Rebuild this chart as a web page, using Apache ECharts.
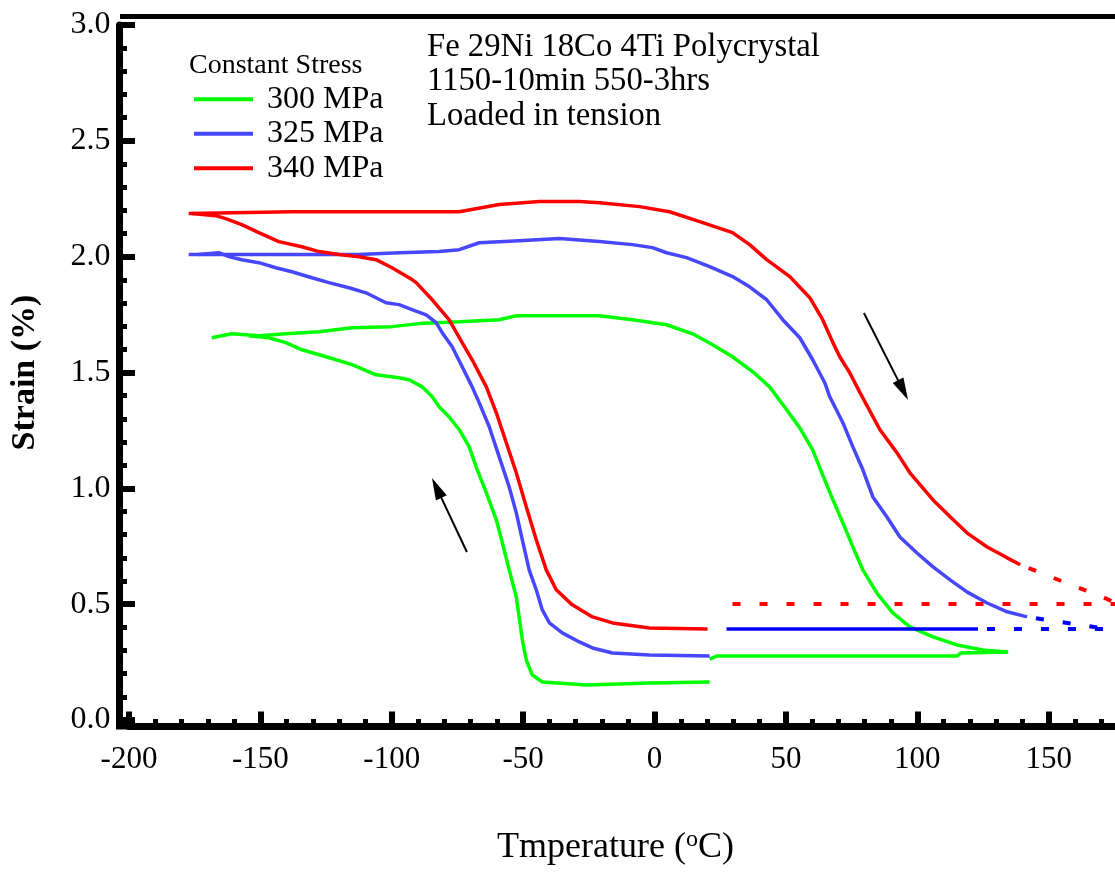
<!DOCTYPE html>
<html>
<head>
<meta charset="utf-8">
<title>Fe 29Ni 18Co 4Ti Polycrystal – strain vs temperature</title>
<script src="https://cdn.jsdelivr.net/npm/echarts@6/dist/echarts.min.js"></script>
<style>
  html, body { margin: 0; padding: 0; background: #fff; overflow: hidden; }
  #chart { width: 1115px; height: 875px; }
</style>
</head>
<body>
<div id="chart"></div>
<script>
// Strain (%) versus temperature (°C) under constant tensile stress.
// Each pair is [temperature, strain].

const FONT = 'Liberation Serif, Times New Roman, serif';

const stressLabels = ['300 MPa', '325 MPa', '340 MPa'];

// 300 MPa
const heat300 = [[-168.5,1.650],[-160.9,1.667],[-150.6,1.659],[-140.3,1.667],[-127.7,1.676],[-115.1,1.693],[-99.9,1.698],[-89.6,1.711],[-74.3,1.719],[-59.1,1.728],[-52.6,1.745],[-40.0,1.745],[-21.0,1.745],[-8.4,1.728],[4.6,1.706],[14.5,1.667],[22.1,1.620],[29.7,1.568],[37.4,1.503],[43.8,1.438],[50.3,1.339],[55.3,1.261],[60.2,1.166],[64.0,1.058],[67.9,0.950],[71.7,0.851],[75.5,0.747],[79.3,0.648],[84.6,0.549],[90.7,0.462],[97.2,0.402],[106.0,0.359],[115.1,0.324],[125.0,0.302],[134.2,0.294]];
const cool300 = [[21.0,0.164],[-1.9,0.160],[-25.9,0.151],[-42.7,0.164],[-46.5,0.194],[-48.8,0.259],[-50.3,0.346],[-52.6,0.531],[-55.3,0.648],[-57.9,0.765],[-60.2,0.864],[-64.0,0.981],[-67.9,1.093],[-70.5,1.179],[-74.3,1.253],[-78.2,1.309],[-82.0,1.352],[-84.6,1.395],[-88.4,1.438],[-93.4,1.469],[-97.2,1.477],[-106.0,1.490],[-115.1,1.534],[-125.0,1.568],[-134.2,1.598],[-140.3,1.629],[-146.8,1.650],[-154.4,1.659]];
const base300 = [[21.0,0.263],[23.6,0.276],[115.1,0.276],[116.5,0.289],[134.6,0.294]];

// 325 MPa
const heat325 = [[-177.3,2.009],[-112.5,2.009],[-97.2,2.017],[-82.0,2.022],[-74.3,2.030],[-66.7,2.060],[-51.5,2.069],[-36.2,2.078],[-21.0,2.065],[-8.4,2.052],[-0.8,2.039],[4.6,2.017],[12.2,1.996],[21.0,1.957],[29.7,1.914],[36.2,1.870],[42.7,1.814],[48.8,1.728],[55.3,1.650],[60.2,1.555],[64.8,1.456],[66.7,1.395],[71.7,1.283],[75.5,1.179],[79.3,1.080],[83.1,0.963],[88.4,0.877],[93.4,0.790],[99.9,0.721],[106.0,0.661],[112.5,0.605],[118.9,0.553],[126.6,0.505],[134.2,0.467],[141.8,0.445]];
const cool325 = [[21.0,0.276],[-1.9,0.281],[-16.0,0.289],[-23.6,0.311],[-28.6,0.337],[-35.1,0.376],[-40.0,0.419],[-42.7,0.475],[-45.0,0.562],[-47.7,0.648],[-50.3,0.778],[-52.6,0.894],[-55.3,1.006],[-59.1,1.136],[-62.9,1.266],[-66.7,1.369],[-69.4,1.438],[-73.2,1.525],[-77.0,1.611],[-80.8,1.672],[-83.1,1.715],[-86.9,1.749],[-92.3,1.771],[-97.2,1.793],[-102.2,1.801],[-109.8,1.844],[-116.3,1.866],[-123.9,1.888],[-130.4,1.909],[-138.0,1.935],[-144.1,1.952],[-150.6,1.974],[-157.1,1.987],[-162.0,2.000],[-165.8,2.017],[-173.5,2.009]];
const base325 = [[27.4,0.393],[123.1,0.393]];
const baseExt325 = [[123.1,0.393],[200,0.393]];
const tailExt325 = [[141.8,0.445],[150.3,0.430],[160.1,0.414],[169.6,0.397],[176.0,0.393]];

// 340 MPa
const heat340 = [[-177.3,2.186],[-138.0,2.194],[-74.3,2.194],[-59.1,2.225],[-43.8,2.238],[-28.6,2.238],[-21.0,2.233],[-5.7,2.216],[5.7,2.194],[17.2,2.151],[29.7,2.104],[36.2,2.052],[42.7,1.987],[51.5,1.914],[59.1,1.823],[64.0,1.728],[67.9,1.629],[70.5,1.568],[74.3,1.499],[78.2,1.413],[85.8,1.253],[92.3,1.153],[97.2,1.067],[106.0,0.950],[112.5,0.877],[118.9,0.808],[126.6,0.747],[134.2,0.700],[139.2,0.670]];
const cool340 = [[20.2,0.393],[-1.9,0.397],[-16.0,0.419],[-23.6,0.445],[-31.3,0.497],[-37.4,0.562],[-41.2,0.648],[-45.0,0.778],[-48.8,0.920],[-52.6,1.067],[-56.4,1.197],[-60.2,1.326],[-64.0,1.438],[-69.4,1.555],[-73.2,1.629],[-78.2,1.728],[-84.6,1.814],[-90.7,1.888],[-92.3,1.901],[-99.9,1.952],[-106.0,1.987],[-112.5,2.000],[-120.1,2.009],[-127.7,2.022],[-134.2,2.043],[-143.0,2.065],[-150.6,2.104],[-157.1,2.138],[-163.2,2.164],[-167.0,2.177],[-176.1,2.186]];
const baseExt340 = [[29.7,0.501],[200,0.501]];
const tailExt340 = [[139.2,0.670],[148.2,0.630],[158.5,0.583],[168.8,0.540],[177.0,0.497]];

// Direction arrows: [tail, head] in [temperature, strain]
const coolingArrow = [[-71.4,0.725],[-82.9,1.002]];
const heatingArrow = [[79.7,1.757],[94.6,1.424]];

const GREEN = '#00ff00', BLUE = '#4747ff', DEEP_BLUE = '#0000ff', RED = '#ff0000';
const DASH = [8, 19];

function curve(name, data, color, opts) {
  opts = opts || {};
  return {
    type: 'line',
    name: name,
    data: data,
    color: color,
    symbol: 'none',
    smooth: false,
    silent: true,
    lineStyle: { color: color, width: opts.width || 3.5, type: opts.dash || 'solid', dashOffset: opts.dashOffset || 0 },
    z: opts.z || 2
  };
}

const series = [
  curve(stressLabels[0], heat300, GREEN),
  curve(stressLabels[0], cool300, GREEN),
  curve(stressLabels[0], base300, GREEN),
  curve(stressLabels[1], heat325, BLUE),
  curve(stressLabels[1], cool325, BLUE),
  curve(stressLabels[1], base325, DEEP_BLUE),
  curve(stressLabels[1], baseExt325, DEEP_BLUE, { dash: DASH, width: 4, dashOffset: 18 }),
  curve(stressLabels[1], tailExt325, DEEP_BLUE, { dash: DASH, width: 4, dashOffset: 18 }),
  curve(stressLabels[2], heat340, RED),
  curve(stressLabels[2], cool340, RED),
  curve(stressLabels[2], baseExt340, RED, { dash: DASH, width: 4 }),
  curve(stressLabels[2], tailExt340, RED, { dash: DASH, width: 4, dashOffset: 18 })
];

// Arrows showing cooling and heating directions
series.push({
  type: 'line',
  name: 'arrows',
  data: [],
  silent: true,
  markLine: {
    silent: true,
    animation: false,
    symbol: ['none', 'triangle'],
    symbolSize: [12, 22],
    label: { show: false },
    lineStyle: { color: '#000', width: 2, type: 'solid' },
    itemStyle: { color: '#000' },
    data: [
      [{ coord: coolingArrow[0] }, { coord: coolingArrow[1] }],
      [{ coord: heatingArrow[0] }, { coord: heatingArrow[1] }]
    ]
  }
});

const chart = echarts.init(document.getElementById('chart'), null, { renderer: 'canvas' });

chart.setOption({
  animation: false,
  backgroundColor: '#fff',
  textStyle: { fontFamily: FONT },
  // plot area runs past the right edge of the page
  grid: { left: 129, top: 25, width: 1051, height: 695, containLabel: false, outerBoundsMode: 'none' },
  title: [
    {
      text: 'Fe 29Ni 18Co 4Ti Polycrystal\n1150-10min 550-3hrs\nLoaded in tension',
      left: 427, top: 30, padding: 0,
      textStyle: { fontFamily: FONT, fontSize: 32.7, fontWeight: 'normal', color: '#000', lineHeight: 34.5 }
    },
    {
      text: 'Constant Stress',
      left: 189, top: 50, padding: 0,
      textStyle: { fontFamily: FONT, fontSize: 28, fontWeight: 'normal', color: '#000', lineHeight: 32 }
    },
    {
      text: 'Tmperature ({sup|o}C)',
      left: 497, top: 828, padding: 0,
      textStyle: {
        fontFamily: FONT, fontSize: 36, fontWeight: 'normal', color: '#000', lineHeight: 40,
        rich: { sup: { fontFamily: FONT, fontSize: 24, lineHeight: 16, verticalAlign: 'top', color: '#000' } }
      }
    }
  ],
  legend: {
    orient: 'vertical',
    left: 194, top: 82, padding: 0,
    itemWidth: 59, itemHeight: 4, itemGap: 0,
    icon: 'rect',
    selectedMode: false,
    data: stressLabels,
    textStyle: { fontFamily: FONT, fontSize: 32, color: '#000', lineHeight: 34.5, padding: [0, 0, 0, 9] }
  },
  xAxis: {
    type: 'value',
    min: -200, max: 200, interval: 50,
    offset: 6,
    axisLine: { show: true, onZero: false, lineStyle: { color: '#000', width: 7 } },
    axisTick: { show: true, inside: true, length: 14.5, lineStyle: { color: '#000', width: 6 } },
    minorTick: { show: true, splitNumber: 5, length: 7, lineStyle: { color: '#000', width: 5 } },
    splitLine: { show: false },
    minorSplitLine: { show: false },
    axisLabel: { fontFamily: FONT, fontSize: 31, color: '#000', margin: 18 }
  },
  yAxis: {
    type: 'value',
    min: 0, max: 3, interval: 0.5,
    offset: 9.5,
    name: 'Strain (%)',
    nameLocation: 'middle',
    nameRotate: 90,
    nameGap: 77,
    nameTextStyle: { fontFamily: FONT, fontSize: 34, fontWeight: 'bold', color: '#000' },
    axisLine: { show: true, onZero: false, lineStyle: { color: '#000', width: 7 } },
    axisTick: { show: true, inside: true, length: 15.5, lineStyle: { color: '#000', width: 6 } },
    minorTick: { show: true, splitNumber: 5, length: 7.5, lineStyle: { color: '#000', width: 5 } },
    splitLine: { show: false },
    minorSplitLine: { show: false },
    axisLabel: { fontFamily: FONT, fontSize: 32, color: '#000', margin: 9, formatter: v => v.toFixed(1) }
  },
  graphic: [
    // top frame edge and lower-left corner of the axis frame
    { type: 'line', silent: true, shape: { x1: 120, y1: 16.5, x2: 1115, y2: 16.5 }, style: { stroke: '#000', lineWidth: 5 } },
    { type: 'rect', silent: true, shape: { x: 116, y: 717, width: 14, height: 12.5 }, style: { fill: '#000' } }
  ],
  series: series
});
</script>
</body>
</html>
